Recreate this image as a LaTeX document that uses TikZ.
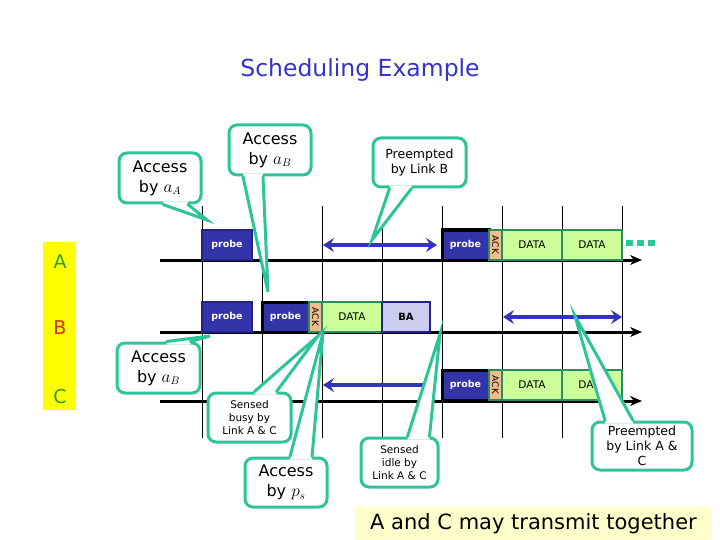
\documentclass[tikz,border=0pt]{standalone}
\usepackage{fontspec}
\usepackage{graphicx}
\setmainfont{DejaVu Sans}
\usetikzlibrary{arrows.meta,calc}

\definecolor{bubblegreen}{RGB}{46,196,154}
\definecolor{probeblue}{RGB}{51,51,170}
\definecolor{probeedge}{RGB}{34,34,136}
\definecolor{arrowblue}{RGB}{51,51,187}
\definecolor{datagreen}{RGB}{204,255,153}
\definecolor{dataedge}{RGB}{42,140,100}
\definecolor{ackpeach}{RGB}{240,190,140}
\definecolor{balilac}{RGB}{204,204,238}
\definecolor{titleblue}{RGB}{51,51,204}
\definecolor{baryellow}{RGB}{255,255,0}
\definecolor{notecream}{RGB}{255,255,204}
\definecolor{labgreen}{RGB}{51,153,51}
\definecolor{labred}{RGB}{204,51,0}

% tail of a speech bubble: node.anchor, dx1, dx2, inward dy, tip
\newcommand{\calloutTail}[5]{%
  \fill[white] ($(#1)+(#2,#4)$) -- ($(#1)+(#2,0)$) -- (#5) -- ($(#1)+(#3,0)$) -- ($(#1)+(#3,#4)$) -- cycle;
  \draw[bubbleline] ($(#1)+(#2,0)$) -- (#5) -- ($(#1)+(#3,0)$);}

\begin{document}
\begin{tikzpicture}[x=1pt,y=-1pt,
  slot/.style={draw,line width=2.5pt,minimum height=30pt,inner sep=0pt},
  probe/.style={slot,fill=probeblue,draw=probeedge,text=white,font=\fontsize{9.5}{10}\selectfont\bfseries},
  probedark/.style={probe,draw=black,line width=3pt},
  ack/.style={slot,fill=ackpeach,draw=dataedge,minimum width=13pt,font=\fontsize{9}{9}\selectfont},
  data/.style={slot,fill=datagreen,draw=dataedge,minimum width=60pt,font=\fontsize{10.5}{11}\selectfont},
  ba/.style={slot,fill=balilac,draw=probeedge,minimum width=48pt,font=\fontsize{10}{11}\selectfont\bfseries},
  timeline/.style={line width=3pt,-{Stealth[length=12pt,width=10pt]}},
  wait/.style={arrowblue,line width=4pt},
  bubble/.style={draw=bubblegreen,line width=3pt,fill=white,rounded corners=8pt,align=center,inner sep=0pt},
  bubbleline/.style={draw=bubblegreen,line width=3pt,line cap=round},
  bigtext/.style={font=\fontsize{16}{20}\selectfont},
  smalltext/.style={font=\fontsize{12.5}{15}\selectfont},
  tinytext/.style={font=\fontsize{10.5}{13}\selectfont}]
\useasboundingbox (0,0) rectangle (720,540);

\node[text=titleblue,font=\fontsize{23.5}{26}\selectfont] (title) at (360,70) {Scheduling Example};

% links
\fill[baryellow] (43,242) rectangle (76,410);
\node[text=labgreen,font=\fontsize{19}{20}\selectfont] (labA) at (60,262) {A};
\node[text=labred,font=\fontsize{19}{20}\selectfont] (labB) at (60,328) {B};
\node[text=labgreen,font=\fontsize{19}{20}\selectfont] (labC) at (60,397) {C};

% slot grid
\foreach \x in {202,262,...,622}
  \draw[line width=1pt] (\x,206) -- (\x,438);

\coordinate (startA) at (160,260);
\coordinate (endA) at (642,260);
\coordinate (startB) at (160,332);
\coordinate (endB) at (642,332);
\coordinate (startC) at (160,401);
\coordinate (endC) at (642,401);
\draw[timeline] (startA) -- (endA);
\draw[timeline] (startB) -- (endB);
\draw[timeline] (startC) -- (endC);

% link A
\node[probe,minimum width=50pt] (probeA1) at (227,245) {probe};
\node[probedark,minimum width=47pt] (probeA2) at (465.5,245) {probe};
\node[ack] (ackA) at (495.5,245) {\rotatebox{-90}{ACK}};
\node[data] (dataA1) at (532,245) {DATA};
\node[data] (dataA2) at (592,245) {DATA};
\draw[bubblegreen,line width=6pt,dash pattern=on 7pt off 4pt] (dataA2.east) ++(3,-2) -- ++(31,0);

% link B
\node[probe,minimum width=50pt] (probeB1) at (227,317) {probe};
\node[probedark,minimum width=47pt] (probeB2) at (285.5,317) {probe};
\node[ack] (ackB) at (315.5,317) {\rotatebox{-90}{ACK}};
\node[data] (dataB) at (352,317) {DATA};
\node[ba] (baB) at (406,317) {BA};

% link C
\node[probedark,minimum width=47pt] (probeC) at (465.5,385) {probe};
\node[ack] (ackC) at (495.5,385) {\rotatebox{-90}{ACK}};
\node[data] (dataC1) at (532,385) {DATA};
\node[data] (dataC2) at (592,385) {DATA};

% waiting times
\coordinate (waitA1) at (323,245);
\coordinate (waitA2) at (437,245);
\coordinate (waitB1) at (503,317);
\coordinate (waitB2) at (622,317);
\coordinate (waitC1) at (424,385);
\coordinate (waitC2) at (323,385);
\draw[wait,{Stealth[length=11pt,width=14pt,inset=4pt]}-{Stealth[length=11pt,width=14pt,inset=4pt]}] (waitA1) -- (waitA2);
\draw[wait,{Stealth[length=11pt,width=14pt,inset=4pt]}-{Stealth[length=11pt,width=14pt,inset=4pt]}] (waitB1) -- (waitB2);
\draw[wait,-{Stealth[length=11pt,width=14pt,inset=4pt]}] (waitC1) -- (waitC2);

% bubbles
\coordinate (tipAA) at (207,220);
\coordinate (tipAB) at (268,292);
\coordinate (tipPB) at (372,240);
\coordinate (tipAB2) at (210,336);
\coordinate (tipBusy) at (318,336);
\coordinate (tipPs) at (323,333);
\coordinate (tipIdle) at (440,334);
\coordinate (tipPAC) at (575,316);

\node[bubble,bigtext,minimum width=82pt,minimum height=50pt] (bubAA) at (160,178) {Access\\by $a_A$};
\calloutTail{bubAA.south}{3}{28}{-3}{tipAA}
\node[bubble,bigtext,minimum width=82pt,minimum height=50pt] (bubAB) at (270,150) {Access\\by $a_B$};
\calloutTail{bubAB.south}{-27}{-7}{-3}{tipAB}
\node[bubble,smalltext,minimum width=93pt,minimum height=49pt] (bubPB) at (419.5,162.5) {Preempted\\by Link B};
\calloutTail{bubPB.south}{-30}{-8}{-3}{tipPB}
\node[bubble,bigtext,minimum width=83pt,minimum height=50pt] (bubAB2) at (158.5,368) {Access\\by $a_B$};
\calloutTail{bubAB2.north}{8}{32}{3}{tipAB2}
\node[bubble,tinytext,minimum width=83pt,minimum height=49pt] (bubBusy) at (249.5,417.5) {Sensed\\busy by\\Link A \& C};
\calloutTail{bubBusy.north}{5}{27}{3}{tipBusy}
\node[bubble,bigtext,minimum width=82pt,minimum height=49pt] (bubPs) at (286,482.5) {Access\\by $p_s$};
\calloutTail{bubPs.north}{4}{26}{3}{tipPs}
\node[bubble,tinytext,minimum width=77pt,minimum height=49pt] (bubIdle) at (399.5,462.5) {Sensed\\idle by\\Link A \& C};
\calloutTail{bubIdle.north}{8}{30}{3}{tipIdle}
\node[bubble,smalltext,minimum width=100pt,minimum height=48pt] (bubPAC) at (642,446) {Preempted\\by Link A \&\\C};
\calloutTail{bubPAC.north}{-37}{-9}{3}{tipPAC}

% conclusion
\node[fill=notecream,minimum width=357pt,minimum height=34pt,font=\fontsize{21}{24}\selectfont] (note) at (533.5,524) {A and C may transmit together};
\end{tikzpicture}
\end{document}
